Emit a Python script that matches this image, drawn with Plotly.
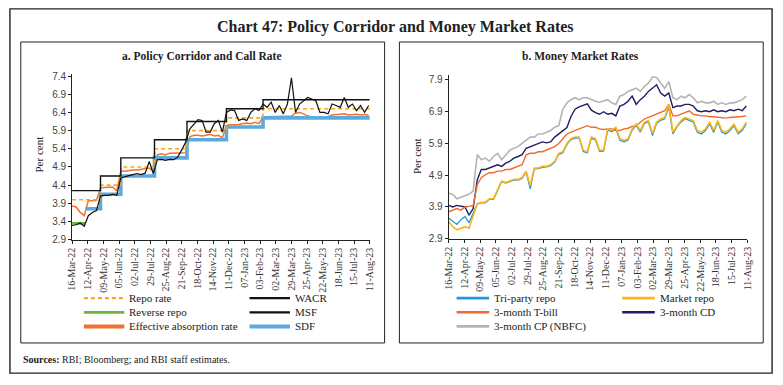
import plotly.graph_objects as go
import pandas as pd

W, H = 783, 385

# ---------------- data ----------------
# weekly observations starting 16-Mar-2022 (74 weeks)
obs_dates = pd.date_range("2022-03-16", periods=74, freq="7D")

# policy corridor (step changes)
policy_dates = ["2022-03-16", "2022-04-08", "2022-05-04", "2022-06-08", "2022-08-05",
                "2022-09-30", "2022-12-07", "2023-02-08", "2023-08-11"]
repo_rate = [4.00, 4.00, 4.40, 4.90, 5.40, 5.90, 6.25, 6.50, 6.50]
msf_rate = [4.25, 4.25, 4.65, 5.15, 5.65, 6.15, 6.50, 6.75, 6.75]
sdf_rate = [None, 3.75, 4.15, 4.65, 5.15, 5.65, 6.00, 6.25, 6.25]
reverse_repo = [3.35, 3.35, None, None, None, None, None, None, None]

wacr = [3.29, 3.31, 3.36, 3.27, 3.56, 3.65, 3.70, 4.10, 4.12, 4.12, 4.15, 4.12, 4.60, 4.64,
        4.66, 4.69, 4.72, 4.69, 4.73, 5.05, 4.72, 5.10, 5.11, 5.08, 5.11, 5.10, 5.17, 5.37,
        5.59, 5.95, 6.09, 6.20, 6.18, 5.86, 5.86, 6.09, 6.18, 5.86, 6.40, 6.47, 6.45, 6.18,
        6.22, 6.18, 6.40, 6.50, 6.45, 6.63, 6.54, 6.68, 6.40, 6.59, 6.36, 6.63, 7.35, 6.40,
        6.63, 6.72, 6.81, 6.77, 6.72, 6.40, 6.40, 6.36, 6.63, 6.59, 6.54, 6.81, 6.54, 6.63,
        6.45, 6.59, 6.40, 6.59]

eff_absorption = [3.83, 3.80, 3.65, 3.56, 3.97, 3.97, 3.98, 4.33, 4.33, 4.35, 4.35, 4.24,
                  4.78, 4.78, 4.81, 4.82, 4.82, 4.84, 4.87, 4.87, 4.78, 5.23, 5.26, 5.23,
                  5.28, 5.28, 5.29, 5.28, 5.29, 5.73, 5.77, 5.77, 5.75, 5.77, 5.80, 5.75,
                  5.77, 5.70, 6.04, 6.06, 6.06, 6.07, 6.09, 6.11, 6.09, 6.13, 6.09, 6.27,
                  6.28, 6.28, 6.29, 6.28, 6.28, 6.29, 6.30, 6.38, 6.40, 6.36, 6.30, 6.28,
                  6.28, 6.27, 6.27, 6.28, 6.33, 6.34, 6.35, 6.36, 6.33, 6.34, 6.35, 6.33,
                  6.34, 6.32]

cp_nbfc = [4.33, 4.30, 4.16, 4.20, 4.26, 4.30, 4.40, 5.55, 5.39, 5.44, 5.34, 5.49, 5.59, 5.39,
           5.54, 5.69, 5.75, 5.80, 5.90, 6.00, 6.10, 6.10, 6.20, 6.20, 6.26, 6.31, 6.41, 6.46,
           6.98, 7.18, 7.28, 7.34, 7.28, 7.34, 7.34, 7.28, 7.23, 7.20, 7.23, 7.28, 7.18, 7.13,
           7.39, 7.44, 7.54, 7.59, 7.64, 7.54, 7.70, 7.80, 8.00, 7.98, 7.80, 7.64, 7.85, 7.34,
           7.28, 7.39, 7.34, 7.44, 7.34, 7.18, 7.23, 7.18, 7.18, 7.23, 7.13, 7.18, 7.13, 7.18,
           7.18, 7.23, 7.28, 7.39]

cd_3m = [3.95, 3.90, 3.95, 3.92, 3.90, 3.64, 3.85, 4.75, 5.08, 5.08, 5.13, 5.18, 5.23, 5.18,
         5.28, 5.34, 5.44, 5.49, 5.55, 5.75, 5.80, 5.85, 5.90, 5.95, 5.92, 5.95, 6.10, 6.20,
         6.30, 6.40, 6.75, 6.98, 7.05, 7.10, 7.15, 6.95, 6.87, 6.82, 6.90, 6.82, 6.85, 6.77,
         7.08, 7.13, 7.23, 7.39, 7.13, 7.28, 7.39, 7.54, 7.64, 7.75, 7.49, 7.39, 7.49, 7.03,
         7.08, 7.08, 7.13, 7.13, 7.08, 6.93, 6.90, 6.93, 6.90, 6.96, 6.90, 6.93, 6.90, 6.96,
         6.93, 6.98, 6.93, 7.08]

tbill_3m = [3.75, 3.80, 3.85, 3.80, 3.90, 3.92, 3.95, 4.60, 4.82, 4.92, 4.98, 4.98, 5.03, 5.03,
            5.08, 5.08, 5.13, 5.18, 5.23, 5.54, 5.59, 5.59, 5.64, 5.64, 5.69, 5.75, 5.80, 5.90,
            6.05, 6.20, 6.26, 6.31, 6.36, 6.41, 6.46, 6.41, 6.41, 6.36, 6.34, 6.36, 6.36, 6.31,
            6.31, 6.36, 6.38, 6.44, 6.46, 6.57, 6.67, 6.72, 6.77, 6.82, 6.87, 6.93, 7.13, 6.77,
            6.77, 6.82, 6.87, 6.93, 6.82, 6.79, 6.77, 6.77, 6.74, 6.74, 6.72, 6.72, 6.70, 6.72,
            6.72, 6.74, 6.75, 6.77]

market_repo = [3.44, 3.28, 3.18, 3.23, 3.28, 3.23, 3.59, 4.00, 4.05, 4.05, 4.16, 4.16, 4.45,
               4.72, 4.67, 4.72, 4.77, 4.77, 4.82, 5.03, 4.57, 5.13, 5.13, 5.18, 5.18, 5.23,
               5.34, 5.59, 5.64, 5.90, 6.05, 6.10, 6.10, 5.69, 5.64, 6.10, 6.05, 5.69, 5.69,
               6.36, 6.31, 6.41, 6.05, 6.00, 6.05, 6.36, 6.51, 6.31, 6.57, 6.62, 6.21, 6.57,
               6.67, 6.72, 7.13, 6.26, 6.46, 6.62, 6.72, 6.67, 6.62, 6.31, 6.26, 6.36, 6.57,
               6.31, 6.62, 6.31, 6.26, 6.36, 6.51, 6.26, 6.36, 6.57]

triparty_repo = [3.55, 3.45, 3.35, 3.50, 3.60, 3.40, 3.70, 4.00, 4.03, 4.03, 4.14, 4.14, 4.42,
                 4.70, 4.65, 4.70, 4.75, 4.75, 4.80, 5.00, 4.47, 5.10, 5.11, 5.15, 5.16, 5.20,
                 5.31, 5.56, 5.61, 5.87, 6.02, 6.07, 6.07, 5.65, 5.60, 6.07, 6.01, 5.65, 5.66,
                 6.32, 6.27, 6.37, 6.00, 5.95, 6.01, 6.32, 6.47, 6.26, 6.53, 6.58, 6.15, 6.53,
                 6.63, 6.68, 7.05, 6.20, 6.42, 6.58, 6.68, 6.63, 6.57, 6.25, 6.20, 6.31, 6.52,
                 6.25, 6.57, 6.25, 6.20, 6.31, 6.46, 6.21, 6.31, 6.52]

x_tick_labels = ["16-Mar-22", "12-Apr-22", "09-May-22", "05-Jun-22", "02-Jul-22", "29-Jul-22",
                 "25-Aug-22", "21-Sep-22", "18-Oct-22", "14-Nov-22", "11-Dec-22", "07-Jan-23",
                 "03-Feb-23", "02-Mar-23", "29-Mar-23", "25-Apr-23", "22-May-23", "18-Jun-23",
                 "15-Jul-23", "11-Aug-23"]
left_y_ticks = [2.9, 3.4, 3.9, 4.4, 4.9, 5.4, 5.9, 6.4, 6.9, 7.4]
right_y_ticks = [2.9, 3.9, 4.9, 5.9, 6.9, 7.9]

# ---------------- styles ----------------
SERIF = "Liberation Serif"
SANS = "Liberation Sans"
styles = {
    "Repo rate": dict(color="#F6A81C", width=1.6, dash="4px,3px", lw=2.2),
    "WACR": dict(color="#111111", width=1.2, dash="solid", lw=2.2),
    "Reverse repo": dict(color="#6BB541", width=2.6, dash="solid", lw=2.8),
    "MSF": dict(color="#111111", width=1.4, dash="solid", lw=2.2),
    "Effective absorption rate": dict(color="#F2722C", width=1.5, dash="solid", lw=4),
    "SDF": dict(color="#5DA9DD", width=3.6, dash="solid", lw=4),
    "Tri-party repo": dict(color="#1E9BD7", width=1.3, dash="solid", lw=2.6),
    "Market repo": dict(color="#FDB515", width=1.6, dash="solid", lw=2.6),
    "3-month T-bill": dict(color="#F26A2A", width=1.4, dash="solid", lw=2.6),
    "3-month CD": dict(color="#1D1D63", width=1.4, dash="solid", lw=2.6),
    "3-month CP (NBFC)": dict(color="#B4B4B4", width=1.6, dash="solid", lw=2.6),
}

fig = go.Figure()


def add(x, y, name, xa, ya, shape="linear"):
    s = styles[name]
    fig.add_trace(go.Scatter(x=x, y=y, name=name, mode="lines", xaxis=xa, yaxis=ya,
                             line=dict(color=s["color"], width=s["width"], dash=s["dash"],
                                       shape=shape),
                             connectgaps=False, showlegend=False, hoverinfo="skip"))


pdates = pd.to_datetime(policy_dates)
# left panel
add(obs_dates, eff_absorption, "Effective absorption rate", "x", "y")
add(pdates, sdf_rate, "SDF", "x", "y", shape="hv")
add(pdates, reverse_repo, "Reverse repo", "x", "y", shape="hv")
add(pdates, repo_rate, "Repo rate", "x", "y", shape="hv")
add(pdates, msf_rate, "MSF", "x", "y", shape="hv")
add(obs_dates, wacr, "WACR", "x", "y")
# right panel
add(obs_dates, cp_nbfc, "3-month CP (NBFC)", "x2", "y2")
add(obs_dates, cd_3m, "3-month CD", "x2", "y2")
add(obs_dates, tbill_3m, "3-month T-bill", "x2", "y2")
add(obs_dates, triparty_repo, "Tri-party repo", "x2", "y2")
add(obs_dates, market_repo, "Market repo", "x2", "y2")


def px(x):
    return x / W


def py(y):
    return 1 - y / H


tick_dates = pd.to_datetime(x_tick_labels, format="%d-%b-%y")
x_range = [tick_dates[0], tick_dates[-1]]

xcommon = dict(type="date", range=x_range, tickvals=tick_dates, ticktext=x_tick_labels,
               tickangle=-90, ticks="outside", ticklen=3, tickcolor="#222", showline=True,
               linecolor="#222", linewidth=1, showgrid=False, zeroline=False,
               tickfont=dict(family=SERIF, size=10, color="#333"), fixedrange=True)
ycommon = dict(ticks="outside", ticklen=3, tickcolor="#222", showline=True, linecolor="#222",
               linewidth=1, showgrid=False, zeroline=False,
               tickfont=dict(family=SANS, size=10, color="#444"), fixedrange=True)

fig.update_layout(
    width=W, height=H, margin=dict(l=0, r=0, t=0, b=0),
    paper_bgcolor="white", plot_bgcolor="white", showlegend=False,
    xaxis=dict(domain=[px(67), px(369)], anchor="y", **xcommon),
    yaxis=dict(domain=[py(242), py(72.1)], anchor="x", range=[2.9, 7.45],
               tickvals=left_y_ticks, ticktext=[f"{v:.1f}" for v in left_y_ticks], **ycommon),
    xaxis2=dict(domain=[px(449), px(752)], anchor="y2", **xcommon),
    yaxis2=dict(domain=[py(241), py(73.1)], anchor="x2", range=[2.9, 8.05],
                tickvals=right_y_ticks, ticktext=[f"{v:.1f}" for v in right_y_ticks], **ycommon),
)

shapes = []
annotations = []


def rect(x0, y0, x1, y1, w):
    shapes.append(dict(type="rect", xref="paper", yref="paper", x0=px(x0), x1=px(x1),
                       y0=py(y1), y1=py(y0), line=dict(color="#222", width=w),
                       fillcolor="rgba(0,0,0,0)", layer="below"))


def text(x, y, s, size, family=SERIF, xanchor="center", angle=0, color="#222"):
    annotations.append(dict(x=px(x), y=py(y), xref="paper", yref="paper", text=s,
                            showarrow=False, xanchor=xanchor, yanchor="middle",
                            textangle=angle, font=dict(family=family, size=size, color=color)))


rect(4, 5, 777, 379, 1.4)
rect(15, 39, 384, 348, 1)
rect(399, 39, 768, 348, 1)

text(395, 24, "<b>Chart 47: Policy Corridor and Money Market Rates</b>", 16)
text(199, 54, "<b>a. Policy Corridor and Call Rate</b>", 11.5)
text(583, 54, "<b>b. Money Market Rates</b>", 11.5)
text(33, 155, "Per cent", 11, angle=-90)
text(417, 156, "Per cent", 11, angle=-90)
text(15, 365, "<b>Sources:</b> RBI; Bloomberg; and RBI staff estimates.", 10, xanchor="left")

# legends (drawn as keys + labels)
left_legend = [["Repo rate", "WACR"], ["Reverse repo", "MSF"], ["Effective absorption rate", "SDF"]]
right_legend = [["Tri-party repo", "Market repo"], ["3-month T-bill", "3-month CD"],
                ["3-month CP (NBFC)", None]]
legend_rows_y = [302, 316.5, 331]


def draw_legend(rows, col_x, key_len):
    for r, row in enumerate(rows):
        for c, name in enumerate(row):
            if name is None:
                continue
            s = styles[name]
            x0 = col_x[c]
            yy = legend_rows_y[r]
            shapes.append(dict(type="line", xref="paper", yref="paper", x0=px(x0),
                               x1=px(x0 + key_len), y0=py(yy), y1=py(yy),
                               line=dict(color=s["color"], width=s["lw"], dash=s["dash"])))
            text(x0 + key_len + 3, yy, name, 11, xanchor="left")


draw_legend(left_legend, [79, 247], 41)
draw_legend(right_legend, [457, 625], 33)

fig.update_layout(shapes=shapes, annotations=annotations)
fig.write_html("out.html", config={"displayModeBar": False},
               post_script="document.body.style.margin='0px';")
